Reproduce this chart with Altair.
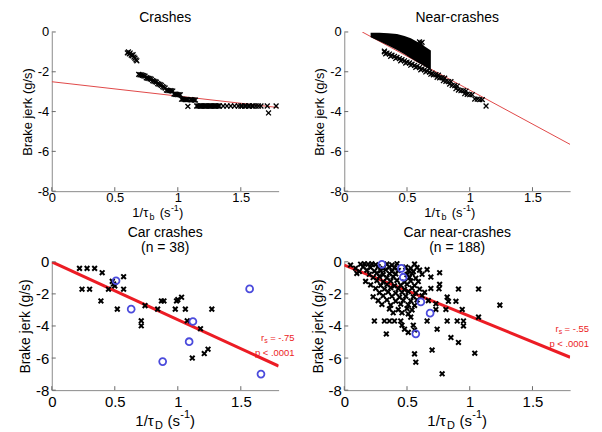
import altair as alt
import pandas as pd

# ---------------- data ----------------
ticks_x = [0, 0.5, 1, 1.5]
ticks_y = [-8, -6, -4, -2, 0]

# Top-left: Crashes (x = 1/tau_b, y = brake jerk)
crash_pts = [
    (0.600, -1.05), (0.608, -1.00), (0.615, -1.10), (0.622, -1.06), (0.630, -1.16),
    (0.638, -1.20), (0.645, -1.14), (0.652, -1.26), (0.660, -1.32), (0.668, -1.40), (0.675, -1.45),
    (0.69, -2.13), (0.70, -2.15), (0.71, -2.16), (0.72, -2.18), (0.73, -2.20), (0.74, -2.22),
    (0.75, -2.30), (0.76, -2.32), (0.77, -2.33), (0.78, -2.35), (0.79, -2.38),
    (0.80, -2.45), (0.81, -2.47), (0.82, -2.50), (0.83, -2.52),
    (0.84, -2.60), (0.85, -2.62), (0.86, -2.65), (0.87, -2.68),
    (0.88, -2.75), (0.89, -2.78), (0.90, -2.82),
    (0.91, -2.92), (0.92, -2.94), (0.93, -2.95), (0.94, -2.95), (0.95, -2.96), (0.96, -2.97),
    (0.97, -3.12), (0.98, -3.13), (0.99, -3.14), (1.00, -3.15), (1.01, -3.15), (1.02, -3.16),
    (1.03, -3.38), (1.04, -3.38), (1.05, -3.39), (1.06, -3.40), (1.07, -3.40), (1.08, -3.40),
    (1.10, -3.40), (1.11, -3.41), (1.12, -3.41), (1.13, -3.42), (1.14, -3.42),
    (1.08, -3.74),
    (1.15, -3.72), (1.16, -3.72), (1.17, -3.72), (1.18, -3.72), (1.19, -3.72), (1.20, -3.72),
    (1.21, -3.72), (1.22, -3.72), (1.23, -3.72), (1.24, -3.72), (1.25, -3.72), (1.26, -3.72),
    (1.27, -3.72), (1.28, -3.72), (1.29, -3.72), (1.30, -3.72), (1.31, -3.72), (1.32, -3.72),
    (1.33, -3.72), (1.36, -3.72), (1.39, -3.72), (1.42, -3.72), (1.45, -3.72), (1.48, -3.72),
    (1.50, -3.72), (1.51, -3.72), (1.53, -3.72), (1.54, -3.72), (1.56, -3.72), (1.57, -3.72),
    (1.59, -3.72), (1.60, -3.72), (1.62, -3.72), (1.64, -3.72), (1.66, -3.72), (1.71, -3.72),
    (1.78, -3.72), (1.72, -4.07),
]
crash_fit_x = [0.0, 1.8]
crash_fit_y = [-2.5, -3.8]

# Top-right: Near-crashes
near_blob_x = [0.21, 0.28, 0.35, 0.42, 0.48, 0.53, 0.57, 0.60, 0.63, 0.66, 0.69]
near_blob_top = [-0.04, -0.04, -0.06, -0.10, -0.20, -0.32, -0.45, -0.56, -0.68, -0.80, -0.93]
near_blob_bot = [-0.26, -0.46, -0.68, -0.90, -1.12, -1.32, -1.47, -1.58, -1.68, -1.80, -1.96]
near_pts = [
    (0.60, -0.50), (0.62, -0.52), (0.61, -0.58),
    (0.32, -0.96), (0.32, -1.00), (0.34, -1.06), (0.36, -1.11), (0.38, -1.17), (0.40, -1.23),
    (0.42, -1.28), (0.44, -1.34), (0.46, -1.39), (0.48, -1.45), (0.50, -1.51), (0.52, -1.56),
    (0.54, -1.62), (0.56, -1.68), (0.58, -1.73), (0.60, -1.79), (0.62, -1.85), (0.64, -1.90),
    (0.66, -1.96), (0.68, -2.02), (0.70, -2.07),
    (0.33, -1.10), (0.37, -1.22), (0.41, -1.33), (0.45, -1.45), (0.49, -1.56), (0.53, -1.67),
    (0.57, -1.78), (0.61, -1.90), (0.65, -2.01), (0.69, -2.12),
    (0.71, -2.15), (0.73, -2.15), (0.75, -2.17), (0.74, -2.28), (0.76, -2.30), (0.78, -2.30),
    (0.80, -2.32), (0.79, -2.45), (0.81, -2.48), (0.83, -2.50), (0.85, -2.50), (0.84, -2.62),
    (0.86, -2.68), (0.88, -2.70), (0.90, -2.72), (0.89, -2.85), (0.91, -2.92), (0.93, -2.95),
    (0.95, -2.95), (0.97, -2.97), (0.96, -3.10), (0.98, -3.13), (1.00, -3.15), (1.02, -3.15),
    (1.04, -3.37), (1.06, -3.38), (1.08, -3.40), (1.10, -3.40), (1.13, -3.72),
]
near_fit_x = [0.143, 1.8]
near_fit_y = [0.0, -5.65]

# Bottom-left: Car crashes (n = 38)
cc_x = [0.22, 0.28, 0.34, 0.40, 0.24, 0.30, 0.39, 0.48, 0.49, 0.50, 0.45, 0.57, 0.57, 0.52,
        0.74, 0.71, 0.71, 0.84, 0.87, 0.89, 0.98, 0.99, 1.00, 1.03, 1.06, 1.075, 1.18, 1.115,
        1.21, 1.24, 1.27]
cc_y = [-0.41, -0.41, -0.41, -0.68, -1.71, -1.71, -2.44, -1.22, -1.38, -1.50, -1.71, -0.93,
        -1.71, -2.95, -2.73, -3.68, -3.99, -2.95, -2.44, -2.44, -2.95, -2.44, -2.36, -2.21,
        -2.95, -3.68, -4.17, -6.00, -5.72, -5.45, -2.95]
cc_blue_x = [0.51, 0.63, 0.88, 1.09, 1.12, 1.57, 1.66]
cc_blue_y = [-1.18, -2.95, -6.22, -4.98, -3.72, -1.69, -7.00]
cc_fit_x = [0.0, 1.8]
cc_fit_y = [0.0, -6.5]

# Bottom-right: Car near-crashes (n = 188)
nc_x = [0.05, 0.13, 0.16, 0.19, 0.22, 0.25, 0.34, 0.38, 0.42, 0.56,
        0.09, 0.15, 0.21, 0.27, 0.31, 0.36, 0.40, 0.49, 0.53, 0.58,
        0.12, 0.18, 0.24, 0.29, 0.33, 0.38, 0.43, 0.51, 0.55, 0.60, 0.66,
        0.10, 0.20, 0.26, 0.31, 0.36, 0.41, 0.50, 0.54, 0.62, 0.76,
        0.23, 0.28, 0.34, 0.39, 0.52, 0.57, 0.69,
        0.17, 0.26, 0.31, 0.37, 0.42, 0.48, 0.53, 0.59,
        0.21, 0.29, 0.34, 0.40, 0.45, 0.50, 0.56, 0.76,
        0.25, 0.32, 0.37, 0.43, 0.48, 0.54, 0.60, 0.69, 0.755, 0.91, 1.07,
        0.28, 0.35, 0.41, 0.46, 0.51, 0.57, 0.64,
        0.23, 0.31, 0.38, 0.44, 0.49, 0.55, 0.62, 0.82,
        0.27, 0.34, 0.41, 0.47, 0.53, 0.58, 0.67, 0.83, 0.89,
        0.30, 0.37, 0.45, 0.51, 0.56, 0.73, 1.24,
        0.36, 0.43, 0.50, 0.54, 0.73, 0.81, 0.94,
        0.39, 0.46, 0.51, 0.53, 1.07,
        0.24, 0.32, 0.36, 0.40, 0.45, 0.66, 0.82, 0.90, 0.95,
        0.46, 0.55, 0.95, 0.48, 0.56, 0.74, 0.51, 0.335, 0.85, 0.91, 0.70, 1.04, 0.56, 0.57, 0.78]
nc_y = [-0.20, -0.15, -0.12, -0.15, -0.13, -0.18, -0.14, -0.20, -0.12, -0.14,
        -0.40, -0.32, -0.36, -0.30, -0.42, -0.34, -0.38, -0.33, -0.40, -0.36,
        -0.60, -0.52, -0.58, -0.55, -0.50, -0.60, -0.54, -0.56, -0.62, -0.52, -0.49,
        -0.72, -0.78, -0.70, -0.80, -0.74, -0.76, -0.80, -0.72, -0.78, -0.68,
        -0.98, -0.92, -1.00, -0.94, -0.97, -1.02, -0.95,
        -1.22, -1.18, -1.25, -1.20, -1.16, -1.26, -1.20, -1.23,
        -1.44, -1.48, -1.42, -1.50, -1.45, -1.40, -1.48, -1.40,
        -1.66, -1.70, -1.62, -1.68, -1.72, -1.64, -1.70, -1.66, -1.68, -1.70, -1.70,
        -1.92, -1.88, -1.95, -1.90, -1.86, -1.94, -1.90,
        -2.18, -2.12, -2.15, -2.20, -2.14, -2.18, -2.12, -2.20,
        -2.42, -2.38, -2.45, -2.40, -2.44, -2.38, -2.42, -2.46, -2.46,
        -2.66, -2.70, -2.64, -2.68, -2.72, -2.62, -2.70,
        -2.94, -2.98, -2.92, -3.00, -2.97, -2.97, -2.97,
        -3.18, -3.18, -3.25, -3.45, -3.45,
        -3.69, -3.69, -3.69, -3.69, -3.69, -3.69, -3.69, -3.69, -3.69,
        -3.95, -3.95, -4.00, -4.20, -4.25, -4.20, -4.40, -4.50, -4.72, -5.03, -5.50, -5.70,
        -5.74, -6.26, -6.98]
nc_blue_x = [0.30, 0.455, 0.47, 0.61, 0.684, 0.57]
nc_blue_y = [-0.16, -0.41, -0.96, -2.50, -3.20, -4.49]
nc_fit_x = [0.0, 1.8]
nc_fit_y = [-0.2, -5.95]

# ---------------- styling helpers ----------------
FONT = "Liberation Sans"
RED = "#ec1c24"
RED_THIN = "#e04848"
BLUE = "#4b4bdc"
AXC = "#8a8a8a"
TKC = "#6a6a6a"
XSHAPE = "M-1,-1L1,1M-1,1L1,-1"

SX = alt.Scale(domain=[0, 1.8], nice=False, zero=False)
SY = alt.Scale(domain=[-8, 0], nice=False, zero=False)


def axis_x(fs, pad):
    return alt.Axis(values=ticks_x, labelExpr="datum.value + ''", title=None, ticks=False,
                    grid=False, domainColor=AXC, labelFontSize=fs, labelFont=FONT,
                    labelColor="#000", labelPadding=pad, labelFlush=False, labelOverlap=False)


def axis_y(fs, tfs):
    return alt.Axis(values=ticks_y, labelExpr="datum.value + ''", title="Brake jerk (g/s)",
                    ticks=False, grid=False, domainColor=AXC, labelFontSize=fs, labelFont=FONT,
                    labelColor="#000", labelPadding=3, labelFlush=False, labelOverlap=False,
                    titleFont=FONT, titleFontSize=tfs, titleFontWeight="normal",
                    titleColor="#000", titlePadding=3)


def enc(fs, tfs, pad, yfield="y"):
    return dict(x=alt.X("x:Q", scale=SX, axis=axis_x(fs, pad)),
                y=alt.Y(yfield + ":Q", scale=SY, axis=axis_y(fs, tfs)))


def fit_layer(xs, ys, color, width, fs, tfs, pad):
    df = pd.DataFrame({"x": xs, "y": ys})
    return alt.Chart(df).mark_line(color=color, strokeWidth=width, clip=True).encode(
        **enc(fs, tfs, pad))


def pts(xs, ys, shape, size, sw, color, fs, tfs, pad):
    df = pd.DataFrame({"x": xs, "y": ys})
    return alt.Chart(df).mark_point(shape=shape, size=size, strokeWidth=sw, color=color,
                                    filled=False, opacity=1).encode(**enc(fs, tfs, pad))


def inner_ticks(h, fs, tfs, pad):
    """Short inward tick marks, as in the original figure."""
    ty = alt.Chart(pd.DataFrame({"y": ticks_y})).mark_rule(color=TKC, strokeWidth=1).encode(
        y=alt.Y("y:Q", scale=SY, axis=axis_y(fs, tfs)), x=alt.value(0), x2=alt.value(4))
    tx = alt.Chart(pd.DataFrame({"x": ticks_x})).mark_rule(color=TKC, strokeWidth=1).encode(
        x=alt.X("x:Q", scale=SX, axis=axis_x(fs, pad)), y=alt.value(h), y2=alt.value(h - 4))
    return [ty, tx]


def txt(s, x, y, fs, align="left", color="#000"):
    return alt.Chart(pd.DataFrame({"t": [s]})).mark_text(
        align=align, baseline="middle", fontSize=fs, font=FONT, color=color).encode(
        text="t:N", x=alt.value(x), y=alt.value(y))


def xtitle(x0, y, sub, fs):
    sfs = round(fs * 0.72)
    w1 = fs * 1.32
    w2 = fs * 0.86
    gap = sfs * 0.75 + fs * 0.28
    return [
        txt("1/τ", x0, y, fs),
        txt(sub, x0 + w1, y + fs * 0.32, sfs),
        txt("(s", x0 + w1 + gap, y, fs),
        txt("-1", x0 + w1 + gap + w2, y - fs * 0.38, sfs),
        txt(")", x0 + w1 + gap + w2 + sfs * 0.9, y, fs),
    ]


def stats(w, y1, y2, rs, dx):
    return [
        txt(" = " + rs, w + dx, y1, 9.5, align="right", color=RED),
        txt("s", w + dx - 27, y1 + 3, 7, align="right", color=RED),
        txt("r", w + dx - 30.5, y1, 9.5, align="right", color=RED),
        txt("p < .0001", w + dx, y2, 9.5, align="right", color=RED),
    ]


# ---------------- panels ----------------
W_L, W_R = 228, 227
H_T, H_B = 160, 129

crash_x = [p[0] for p in crash_pts]
crash_y = [p[1] for p in crash_pts]
near_x = [p[0] for p in near_pts]
near_y = [p[1] for p in near_pts]

top_title = dict(fontSize=14, font=FONT, fontWeight="normal", offset=1, anchor="middle", color="#000")
bot_title = dict(fontSize=14, font=FONT, fontWeight="normal", offset=0, anchor="middle",
                 lineHeight=15, color="#000")

tl = alt.layer(
    fit_layer(crash_fit_x, crash_fit_y, RED_THIN, 1, 13, 13, 0),
    *inner_ticks(H_T, 13, 13, 0),
    pts(crash_x, crash_y, XSHAPE, 24, 1.3, "#000", 13, 13, 0),
    *xtitle(W_L / 2 - 33, H_T + 22, "b", 13),
).properties(width=W_L, height=H_T, title=alt.TitleParams("Crashes", **top_title))

blob_df = pd.DataFrame({"x": near_blob_x, "top": near_blob_top, "bot": near_blob_bot})
blob = alt.Chart(blob_df).mark_area(color="#000", opacity=1).encode(
    y2="bot:Q", **enc(13, 13, 0, "top"))

tr = alt.layer(
    fit_layer(near_fit_x, near_fit_y, RED_THIN, 1, 13, 13, 0),
    *inner_ticks(H_T, 13, 13, 0),
    blob,
    pts(near_x, near_y, XSHAPE, 24, 1.3, "#000", 13, 13, 0),
    *xtitle(W_R / 2 - 33, H_T + 22, "b", 13),
).properties(width=W_R, height=H_T, title=alt.TitleParams("Near-crashes", **top_title))

bl = alt.layer(
    fit_layer(cc_fit_x, cc_fit_y, RED, 3, 15, 14, 4),
    *inner_ticks(H_B, 15, 14, 4),
    pts(cc_x, cc_y, XSHAPE, 22, 2, "#000", 15, 14, 4),
    pts(cc_blue_x, cc_blue_y, "circle", 48, 1.8, BLUE, 15, 14, 4),
    *xtitle(W_L / 2 - 30, H_B + 31, "D", 15),
    *stats(W_L, 77, 92, "-.75", 16),
).properties(width=W_L, height=H_B,
             title=alt.TitleParams(["Car crashes", "(n = 38)"], **bot_title))

br = alt.layer(
    fit_layer(nc_fit_x, nc_fit_y, RED, 3, 15, 14, 4),
    *inner_ticks(H_B, 15, 14, 4),
    pts(nc_x, nc_y, XSHAPE, 22, 2, "#000", 15, 14, 4),
    pts(nc_blue_x, nc_blue_y, "circle", 48, 1.8, BLUE, 15, 14, 4),
    *xtitle(W_R / 2 - 30, H_B + 31, "D", 15),
    *stats(W_R, 68, 83, "-.55", 19),
).properties(width=W_R, height=H_B,
             title=alt.TitleParams(["Car near-crashes", "(n = 188)"], **bot_title))

chart = alt.concat(tl, tr, bl, br, columns=2, spacing={"row": 71, "column": 66},
                   bounds="flush").properties(
    padding={"left": 10, "top": 2, "right": 5, "bottom": 5},
    background="white",
).configure_view(strokeWidth=0)

chart.save("out.html", embed_options={"renderer": "svg", "actions": False})
